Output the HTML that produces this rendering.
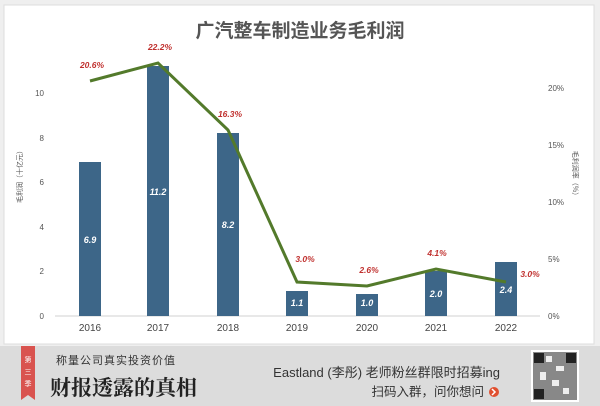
<!DOCTYPE html><html><head><meta charset="utf-8"><style>
body{margin:0;width:600px;height:406px;background:#e8e8e8;overflow:hidden;font-family:"Liberation Sans","Noto Sans CJK SC",sans-serif}
</style></head><body>
<svg width="600" height="406" xmlns="http://www.w3.org/2000/svg" style="position:absolute;left:0;top:0">
<rect x="0" y="0" width="600" height="406" fill="#efefef"/>
<rect x="4" y="5" width="590" height="339" fill="#fff" stroke="#ddd"/>
<text x="300" y="37" text-anchor="middle" font-size="19" font-weight="bold" fill="#555" font-family="Noto Sans CJK SC,sans-serif">广汽整车制造业务毛利润</text>
<g font-size="8" fill="#555">
<text x="44" y="96" text-anchor="end">10</text><text x="44" y="141" text-anchor="end">8</text><text x="44" y="185" text-anchor="end">6</text><text x="44" y="230" text-anchor="end">4</text><text x="44" y="274" text-anchor="end">2</text><text x="44" y="319" text-anchor="end">0</text>
<text x="548" y="91">20%</text><text x="548" y="148">15%</text><text x="548" y="205">10%</text><text x="548" y="262">5%</text><text x="548" y="319">0%</text>
</g>
<text transform="translate(22,175) rotate(-90)" text-anchor="middle" font-size="7" fill="#555" font-family="Noto Sans CJK SC,sans-serif">毛利润（十亿元）</text>
<text transform="translate(573,175) rotate(90)" text-anchor="middle" font-size="7" fill="#555" font-family="Noto Sans CJK SC,sans-serif">毛利润率（%）</text>
<line x1="55" y1="316" x2="540" y2="316" stroke="#d0d0d0"/>
<g fill="#3d6688">
<rect x="79" y="162" width="22" height="154"/><rect x="147" y="66" width="22" height="250"/><rect x="217" y="133" width="22" height="183"/><rect x="286" y="291" width="22" height="25"/><rect x="356" y="294" width="22" height="22"/><rect x="425" y="271" width="22" height="45"/><rect x="495" y="262" width="22" height="54"/>
</g>
<g font-size="9" fill="#fff" font-style="italic" font-weight="bold" text-anchor="middle">
<text x="90" y="243">6.9</text><text x="158" y="195">11.2</text><text x="228" y="228">8.2</text><text x="297" y="306">1.1</text><text x="367" y="306">1.0</text><text x="436" y="297">2.0</text><text x="506" y="293">2.4</text>
</g>
<polyline points="90,81 158,63 228,130 297,282 367,286 436,269 506,282" fill="none" stroke="#537a2b" stroke-width="3"/>
<g font-size="8.5" fill="#c0302e" font-style="italic" font-weight="bold" text-anchor="middle">
<text x="92" y="68">20.6%</text><text x="160" y="50">22.2%</text><text x="230" y="117">16.3%</text><text x="305" y="262">3.0%</text><text x="369" y="273">2.6%</text><text x="437" y="256">4.1%</text><text x="530" y="277">3.0%</text>
</g>
<g font-size="10" fill="#444" text-anchor="middle">
<text x="90" y="331">2016</text><text x="158" y="331">2017</text><text x="228" y="331">2018</text><text x="297" y="331">2019</text><text x="367" y="331">2020</text><text x="436" y="331">2021</text><text x="506" y="331">2022</text>
</g>
<rect x="0" y="346" width="600" height="60" fill="#dcdcdc"/>
<path d="M21,346 h14 v54 l-7,-5 l-7,5 z" fill="#d9534f"/>
<text x="28" y="362" font-size="7" fill="#fff" text-anchor="middle" font-family="Noto Sans CJK SC,sans-serif">第</text>
<text x="28" y="374" font-size="7" fill="#fff" text-anchor="middle" font-family="Noto Sans CJK SC,sans-serif">三</text>
<text x="28" y="386" font-size="7" fill="#fff" text-anchor="middle" font-family="Noto Sans CJK SC,sans-serif">季</text>
<text x="56" y="364" font-size="11" fill="#333" font-family="Noto Sans CJK SC,sans-serif" letter-spacing="1">称量公司真实投资价值</text>
<text x="50" y="395" font-size="21" font-weight="bold" fill="#222" font-family="Noto Serif CJK SC,serif">财报透露的真相</text>
<text x="500" y="377" font-size="13" fill="#333" text-anchor="end" font-family="Liberation Sans,Noto Sans CJK SC,sans-serif">Eastland (李彤) 老师粉丝群限时招募ing</text>
<text x="484" y="396" font-size="12.5" fill="#333" text-anchor="end" font-family="Noto Sans CJK SC,sans-serif">扫码入群，问你想问</text>
<circle cx="494" cy="392" r="5" fill="#e05030"/><path d="M492,389 l3,3 l-3,3" stroke="#fff" stroke-width="1.5" fill="none"/>
<rect x="531" y="350" width="48" height="52" fill="#fff"/>
<rect x="533" y="352" width="44" height="48" fill="#888"/>
<rect x="546" y="356" width="6" height="6" fill="#eee"/><rect x="556" y="366" width="8" height="5" fill="#eee"/><rect x="540" y="372" width="6" height="8" fill="#eee"/><rect x="552" y="380" width="7" height="6" fill="#eee"/><rect x="563" y="388" width="6" height="6" fill="#eee"/>
<rect x="534" y="353" width="10" height="10" fill="#222"/><rect x="566" y="353" width="10" height="10" fill="#222"/><rect x="534" y="389" width="10" height="10" fill="#222"/>
</svg>
</body></html>
